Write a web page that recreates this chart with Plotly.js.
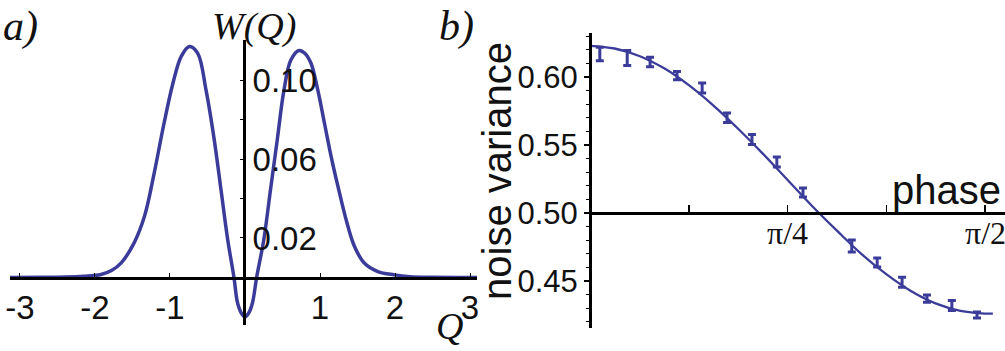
<!DOCTYPE html>
<html>
<head>
<meta charset="utf-8">
<script src="https://cdn.plot.ly/plotly-3.0.1.min.js"></script>
<style>
  html, body { margin: 0; padding: 0; background: #fff; }
  #chart { width: 1005px; height: 351px; }
</style>
</head>
<body>
<div id="chart"></div>
<script>
// panel a) W(Q)
const qVals = [-3.15, -2.7, -2.4, -2.15, -1.92, -1.78, -1.65, -1.48, -1.34, -1.21, -1.08, -0.96, -0.85, -0.74, -0.63,
  -0.52, -0.41, -0.32, -0.23, -0.147, -0.1, -0.05, 0, 0.05, 0.1, 0.155, 0.25, 0.34, 0.43, 0.52, 0.61, 0.72, 0.8,
  0.88, 0.97, 1.06, 1.15, 1.24, 1.35, 1.46, 1.59, 1.77, 1.99, 2.2, 2.5, 2.8, 3.1];
const wVals = [0, 0.00005, 0.0002, 0.0006, 0.0015, 0.0035, 0.0074, 0.0174, 0.031, 0.053, 0.078, 0.0985, 0.112, 0.117, 0.1135,
  0.095, 0.0697, 0.0444, 0.019, 0, -0.0128, -0.018, -0.020, -0.018, -0.0128, 0, 0.019, 0.0444, 0.0697, 0.095, 0.110, 0.115, 0.1135,
  0.1085, 0.095, 0.078, 0.061, 0.046, 0.029, 0.0157, 0.0073, 0.003, 0.0013, 0.0004, 0.0001, 0, 0];
const qTicks = [-3, -2, -1, 0, 1, 2, 3];
const qTickText = ['-3', '-2', '-1', '', '1', '2', '3'];
const wTicks = [0.02, 0.04, 0.06, 0.08, 0.10];
const wTickText = ['0.02', '', '0.06', '', '0.10'];

// panel b) noise variance vs phase (rad)
const phaseData = [0.039, 0.148, 0.239, 0.346, 0.446, 0.545, 0.644, 0.743, 0.847, 1.041, 1.142, 1.241, 1.340, 1.439, 1.539];
const varData = [0.617, 0.614, 0.611, 0.601, 0.592, 0.570, 0.554, 0.5375, 0.515, 0.4757, 0.4636, 0.449, 0.437, 0.432, 0.425];
const varErr = [0.005, 0.0055, 0.0035, 0.003, 0.0037, 0.0035, 0.0037, 0.0037, 0.0033, 0.0044, 0.0033, 0.0037, 0.0026, 0.0037, 0.0022];
const phaseFit = [0, 0.098, 0.196, 0.295, 0.393, 0.491, 0.589, 0.687, 0.785, 0.884, 0.982, 1.080, 1.178, 1.276, 1.374, 1.473, 1.571, 1.602];
const varFit = [0.623, 0.621, 0.6155, 0.6064, 0.594, 0.579, 0.562, 0.5437, 0.5245, 0.505, 0.487, 0.4697, 0.455, 0.4426, 0.4335, 0.428, 0.426, 0.426];
const phaseTicks = [0, Math.PI / 8, Math.PI / 4, 3 * Math.PI / 8, Math.PI / 2];
const phaseTickText = ['', '', 'π/4', '', 'π/2'];

const W = 1005, H = 351;
const px = x => x / W;
const py = y => 1 - y / H;
const blue = '#3b3c99';
const serif = 'Liberation Serif, Times New Roman, serif';
const sans = 'Liberation Sans, Arial, sans-serif';

const traces = [
  {
    x: qVals, y: wVals, type: 'scatter', mode: 'lines',
    line: { color: blue, width: 3.5, shape: 'spline', smoothing: 1 },
    xaxis: 'x', yaxis: 'y', hoverinfo: 'skip'
  },
  {
    x: phaseFit, y: varFit, type: 'scatter', mode: 'lines',
    line: { color: blue, width: 2.3, shape: 'spline' },
    xaxis: 'x2', yaxis: 'y2', hoverinfo: 'skip'
  },
  {
    x: phaseData, y: varData, type: 'scatter', mode: 'markers',
    marker: { size: 1, color: blue },
    error_y: { type: 'data', array: varErr, visible: true, color: blue, thickness: 3, width: 4 },
    xaxis: 'x2', yaxis: 'y2', hoverinfo: 'skip'
  }
];

// annotations: explicit anchors so paper-ref texts are not auto-anchored
const label = (text, x, y, font, extra) => Object.assign({
  text, x: px(x), y: py(y), xref: 'paper', yref: 'paper', xanchor: 'center', yanchor: 'middle',
  showarrow: false, font
}, extra || {});

const annotations = [
  label('<i>a)</i>', 20, 26, { family: serif, size: 42, color: '#111' }),
  label('<i>W(Q)</i>', 254, 26, { family: serif, size: 38, color: '#111' }),
  label('<i>Q</i>', 449, 326, { family: serif, size: 38, color: '#111' }),
  label('<i>b)</i>', 456, 26, { family: serif, size: 42, color: '#111' }),
  label('noise variance', 497, 171, { family: sans, size: 40, color: '#111' }, { textangle: -90 }),
  label('phase', 1003, 190, { family: sans, size: 40, color: '#111' }, { xanchor: 'right' })
];
// phase tick labels sit tight under the axis, placed on the x2 scale
phaseTicks.forEach((t, i) => {
  if (!phaseTickText[i]) return;
  annotations.push({
    text: phaseTickText[i], x: t, xref: 'x2', y: py(233), yref: 'paper',
    xanchor: 'center', yanchor: 'middle', showarrow: false,
    font: { family: serif, size: 32, color: '#111' }
  });
});

const layout = {
  width: W, height: H,
  margin: { l: 0, r: 0, t: 0, b: 0 },
  paper_bgcolor: '#fff', plot_bgcolor: 'rgba(0,0,0,0)',
  showlegend: false,
  xaxis: {
    domain: [px(10), px(477)], range: [-3.133, 3.093],
    anchor: 'free', position: py(277.5),
    showgrid: false, zeroline: false, showline: true, linecolor: '#000', linewidth: 3,
    tickvals: qTicks, ticktext: qTickText, ticks: 'inside', ticklen: 4, tickcolor: '#000', tickwidth: 1,
    tickfont: { family: sans, size: 33, color: '#111' }
  },
  yaxis: {
    domain: [py(325), py(40)], range: [-0.0241, 0.1203],
    anchor: 'free', position: px(244), side: 'right',
    showgrid: false, zeroline: false, showline: true, linecolor: '#000', linewidth: 3,
    tickvals: wTicks, ticktext: wTickText, ticks: 'inside', ticklen: 3, tickcolor: '#000', tickwidth: 1,
    tickfont: { family: sans, size: 33, color: '#111' }
  },
  xaxis2: {
    domain: [px(590), 1], range: [0, 1.6503],
    anchor: 'free', position: py(213),
    showgrid: false, zeroline: false, showline: true, linecolor: '#000', linewidth: 3,
    tickvals: phaseTicks, ticktext: phaseTicks.map(() => ''), ticks: 'inside', ticklen: 7, tickcolor: '#000', tickwidth: 1.5
  },
  yaxis2: {
    domain: [py(328), py(33)], range: [0.4154, 0.6324],
    anchor: 'free', position: px(590),
    showgrid: false, zeroline: false, showline: true, linecolor: '#000', linewidth: 3,
    tickvals: [0.45, 0.50, 0.55, 0.60], ticktext: ['0.45', '0.50', '0.55', '0.60'],
    ticks: 'outside', ticklen: 5, tickcolor: '#000', tickwidth: 1.5,
    minor: { dtick: 0.01, ticks: 'outside', ticklen: 3, tickcolor: '#000', tickwidth: 1 },
    tickfont: { family: sans, size: 31, color: '#111' }
  },
  annotations
};

Plotly.newPlot('chart', traces, layout, { staticPlot: true, displayModeBar: false });
</script>
</body>
</html>
